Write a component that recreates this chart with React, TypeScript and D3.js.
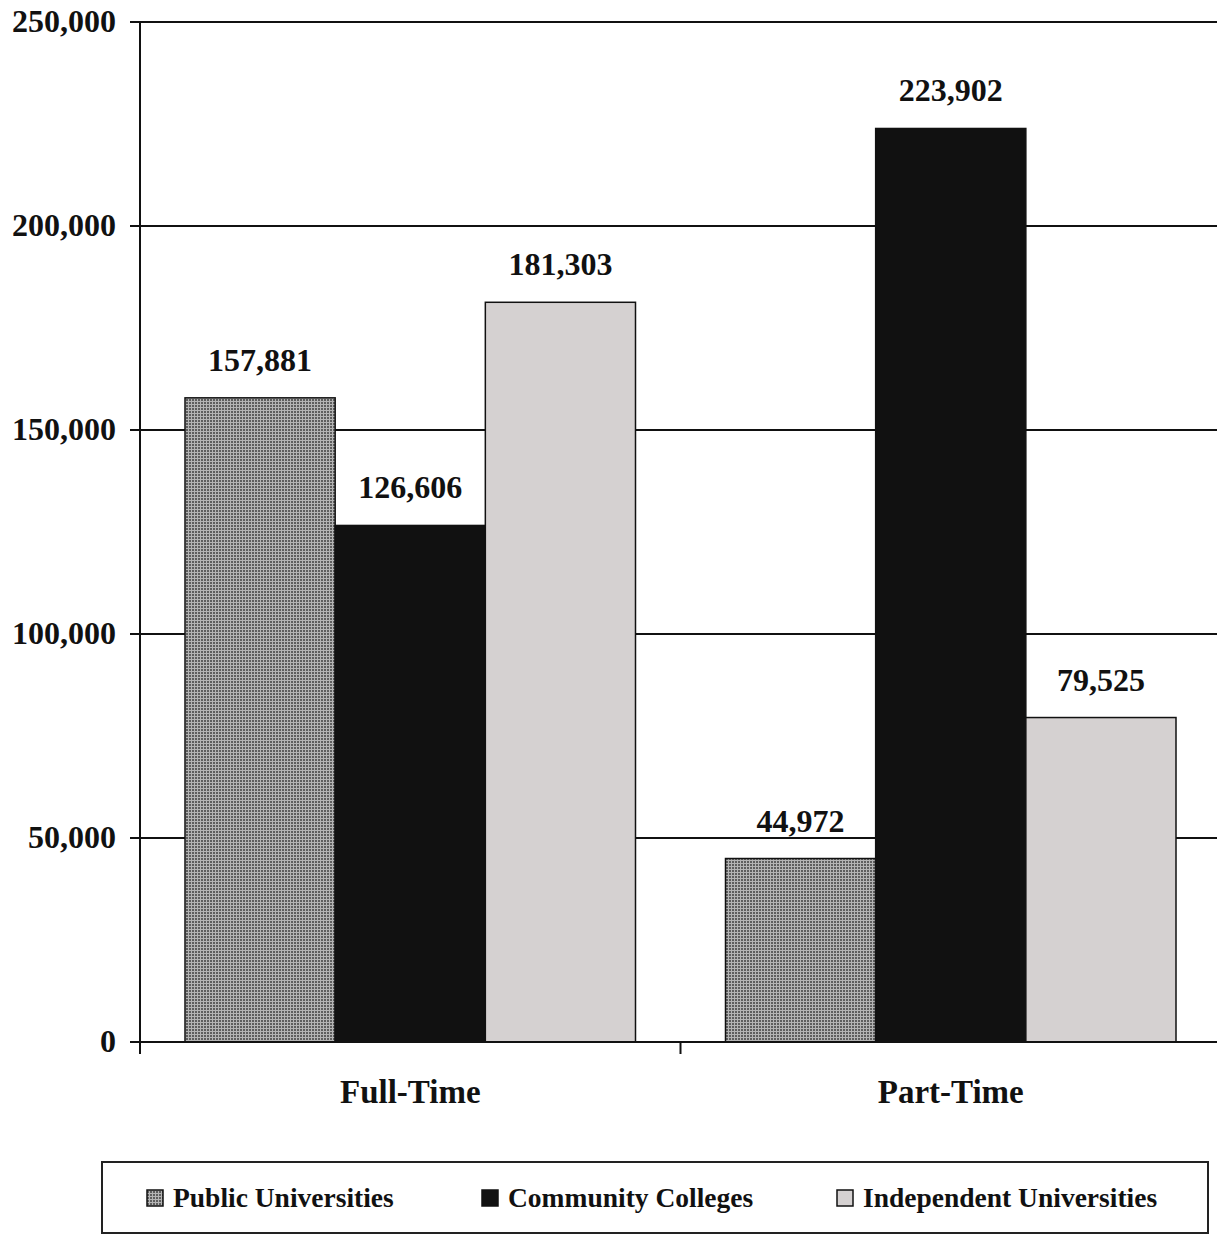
import React from "react";
import * as d3 from "d3";

const categories = ["Full-Time", "Part-Time"];
const seriesNames = ["Public Universities", "Community Colleges", "Independent Universities"];
const publicValues = [157881, 44972];
const communityValues = [126606, 223902];
const independentValues = [181303, 79525];
const yTicks = [0, 50000, 100000, 150000, 200000, 250000];

const W = 1217;
const H = 1235;
const left = 140;
const right = 1221;
const top = 22;
const bottom = 1042;
const FONT = "'Liberation Serif', 'DejaVu Serif', serif";

export default function App() {
  const x = d3.scaleBand<string>().domain(categories).range([left, right]);
  const xi = d3.scaleBand<string>().domain(seriesNames).range([45, x.bandwidth() - 45]);
  const y = d3.scaleLinear().domain([0, 250000]).range([bottom, top]);
  const fmt = d3.format(",");
  const valuesBySeries = [publicValues, communityValues, independentValues];
  const fills = ["url(#pubPat)", "#111111", "#d5d1d1"];

  const legendX = [147, 482, 837];

  return (
    <svg width={W} height={H} style={{ position: "absolute", left: 0, top: 0, background: "#fff" }}>
      <defs>
        <pattern id="pubPat" width={3} height={3} patternUnits="userSpaceOnUse">
          <rect width={3} height={3} fill="#b4b4b4" />
          <rect width={2} height={2} fill="#5e5e5e" />
        </pattern>
      </defs>
      {/* gridlines */}
      {yTicks.map((t) => (
        <line key={"g" + t} x1={left - 10} x2={W} y1={y(t)} y2={y(t)} stroke="#111" strokeWidth={2} />
      ))}
      {/* y tick labels */}
      {yTicks.map((t) => (
        <text key={"t" + t} x={116} y={y(t) + 10} textAnchor="end" fontFamily={FONT} fontWeight="bold" fontSize={32} fill="#111">
          {fmt(t)}
        </text>
      ))}
      {/* bars */}
      {categories.map((c, ci) =>
        seriesNames.map((s, si) => {
          const v = valuesBySeries[si][ci];
          const bx = (x(c) as number) + (xi(s) as number);
          return (
            <g key={c + s}>
              <rect x={bx} y={y(v)} width={xi.bandwidth()} height={bottom - y(v)} fill={fills[si]} stroke="#111" strokeWidth={1.5} />
              <text x={bx + xi.bandwidth() / 2} y={y(v) - 27} textAnchor="middle" fontFamily={FONT} fontWeight="bold" fontSize={32} fill="#111">
                {fmt(v)}
              </text>
            </g>
          );
        })
      )}
      {/* axes */}
      <line x1={left} x2={left} y1={top} y2={bottom + 12} stroke="#111" strokeWidth={2} />
      <line x1={left - 10} x2={W} y1={bottom} y2={bottom} stroke="#111" strokeWidth={2} />
      {categories.slice(1).map((c) => (
        <line key={"xt" + c} x1={x(c)} x2={x(c)} y1={bottom} y2={bottom + 12} stroke="#111" strokeWidth={2} />
      ))}
      {categories.map((c) => (
        <text key={"xl" + c} x={(x(c) as number) + x.bandwidth() / 2} y={1103} textAnchor="middle" fontFamily={FONT} fontWeight="bold" fontSize={33} fill="#111">
          {c}
        </text>
      ))}
      {/* legend */}
      <rect x={102} y={1162} width={1106} height={71} fill="#fff" stroke="#222" strokeWidth={2} />
      {seriesNames.map((s, si) => (
        <g key={"lg" + s}>
          <rect x={legendX[si]} y={1190} width={16} height={16} fill={fills[si]} stroke="#111" strokeWidth={1.5} />
          <text x={legendX[si] + 26} y={1207} fontFamily={FONT} fontWeight="bold" fontSize={27.5} fill="#111">
            {s}
          </text>
        </g>
      ))}
    </svg>
  );
}
